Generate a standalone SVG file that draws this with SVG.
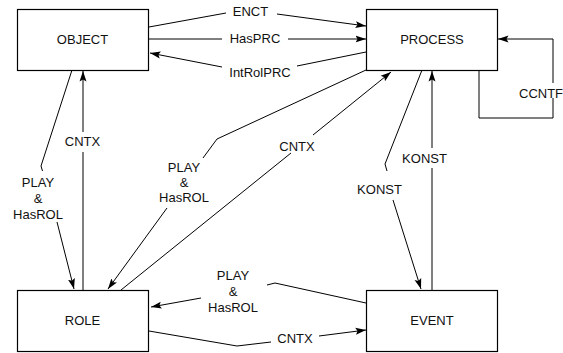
<svg xmlns="http://www.w3.org/2000/svg" width="563" height="353" viewBox="0 0 563 353">
  <style>
    .box { fill: #ffffff; stroke: #000000; stroke-width: 1.2; }
    .lbl { font-family: "Liberation Sans", Arial, Helvetica, sans-serif; font-size: 13px; fill: #111111; text-anchor: middle; }
    .edge { fill: none; stroke: #000000; stroke-width: 1; }
    .tip { marker-end: url(#arrow); }
  </style>
  <defs>
    <marker id="arrow" markerWidth="11" markerHeight="8" refX="10.5" refY="4" orient="auto" markerUnits="userSpaceOnUse">
      <path d="M0,0.5 L10.5,4 L0,7.5 L2,4 Z" fill="#000000"/>
    </marker>
  </defs>

  <rect width="563" height="353" fill="#ffffff"/>

  <!-- entity boxes -->
  <g id="object">
    <rect class="box" x="17.5" y="9.5" width="131" height="61"/>
    <text class="lbl" x="82.5" y="44">OBJECT</text>
  </g>
  <g id="process">
    <rect class="box" x="366.5" y="9.5" width="131" height="61"/>
    <text class="lbl" x="432" y="44">PROCESS</text>
  </g>
  <g id="role">
    <rect class="box" x="17.5" y="290.5" width="131" height="61"/>
    <text class="lbl" x="82.5" y="325">ROLE</text>
  </g>
  <g id="event">
    <rect class="box" x="366.5" y="290.5" width="131" height="61"/>
    <text class="lbl" x="432" y="325">EVENT</text>
  </g>

  <!-- relations -->
  <g id="connectors">
    <g id="e-enct">
      <polyline class="edge" points="149,27 226,13"/>
      <polyline class="edge tip" points="277,14 366,26"/>
      <text class="lbl" x="250.5" y="15.5">ENCT</text>
    </g>
    <g id="e-hasprc">
      <polyline class="edge" points="149,39 222,39"/>
      <polyline class="edge tip" points="288,39 366,39"/>
      <text class="lbl" x="255" y="43">HasPRC</text>
    </g>
    <g id="e-introlprc">
      <polyline class="edge" points="366,52 297,66"/>
      <polyline class="edge tip" points="222,67 150,53"/>
      <text class="lbl" x="260" y="77">IntRolPRC</text>
    </g>
    <g id="e-ccntf">
      <polyline class="edge" points="479,70 479,118 553,118 553,98"/>
      <polyline class="edge tip" points="553,83 553,39 498,39"/>
      <text class="lbl" x="519" y="97.5" style="text-anchor:start">CCNTF</text>
    </g>
    <g id="e-cntx-role-object">
      <polyline class="edge" points="83,290 83,152"/>
      <polyline class="edge tip" points="83,132 83,71"/>
      <text class="lbl" x="82.5" y="146">CNTX</text>
    </g>
    <g id="e-play-object-role">
      <polyline class="edge" points="72,70 41,166 42.5,171"/>
      <polyline class="edge tip" points="57,222 74,289"/>
      <text class="lbl" x="38" y="187">PLAY</text>
      <text class="lbl" x="38" y="203">&amp;</text>
      <text class="lbl" x="38" y="218.5">HasROL</text>
    </g>
    <g id="e-play-process-role">
      <polyline class="edge" points="366,70 217,139 203,158"/>
      <polyline class="edge tip" points="167,208 108,289"/>
      <text class="lbl" x="184" y="171.7">PLAY</text>
      <text class="lbl" x="184" y="187">&amp;</text>
      <text class="lbl" x="184" y="202">HasROL</text>
    </g>
    <g id="e-cntx-role-process">
      <polyline class="edge" points="121,290 291,153"/>
      <polyline class="edge tip" points="313,135 391,72"/>
      <text class="lbl" x="297" y="150.7">CNTX</text>
    </g>
    <g id="e-konst-process-event">
      <polyline class="edge" points="422,70 385,164 387,171"/>
      <polyline class="edge tip" points="393,200 421,289"/>
      <text class="lbl" x="379.5" y="194">KONST</text>
    </g>
    <g id="e-konst-event-process">
      <polyline class="edge" points="432,290 432,168"/>
      <polyline class="edge tip" points="432,148 432,71"/>
      <text class="lbl" x="424.5" y="163">KONST</text>
    </g>
    <g id="e-play-event-role">
      <polyline class="edge" points="366,303 275,283 267,285"/>
      <polyline class="edge tip" points="201,298 151,307"/>
      <text class="lbl" x="233" y="280">PLAY</text>
      <text class="lbl" x="233" y="296">&amp;</text>
      <text class="lbl" x="233" y="311.7">HasROL</text>
    </g>
    <g id="e-cntx-role-event">
      <polyline class="edge" points="149,331 237,346 271,342"/>
      <polyline class="edge tip" points="319,336 366,330"/>
      <text class="lbl" x="295" y="343">CNTX</text>
    </g>
  </g>
</svg>
